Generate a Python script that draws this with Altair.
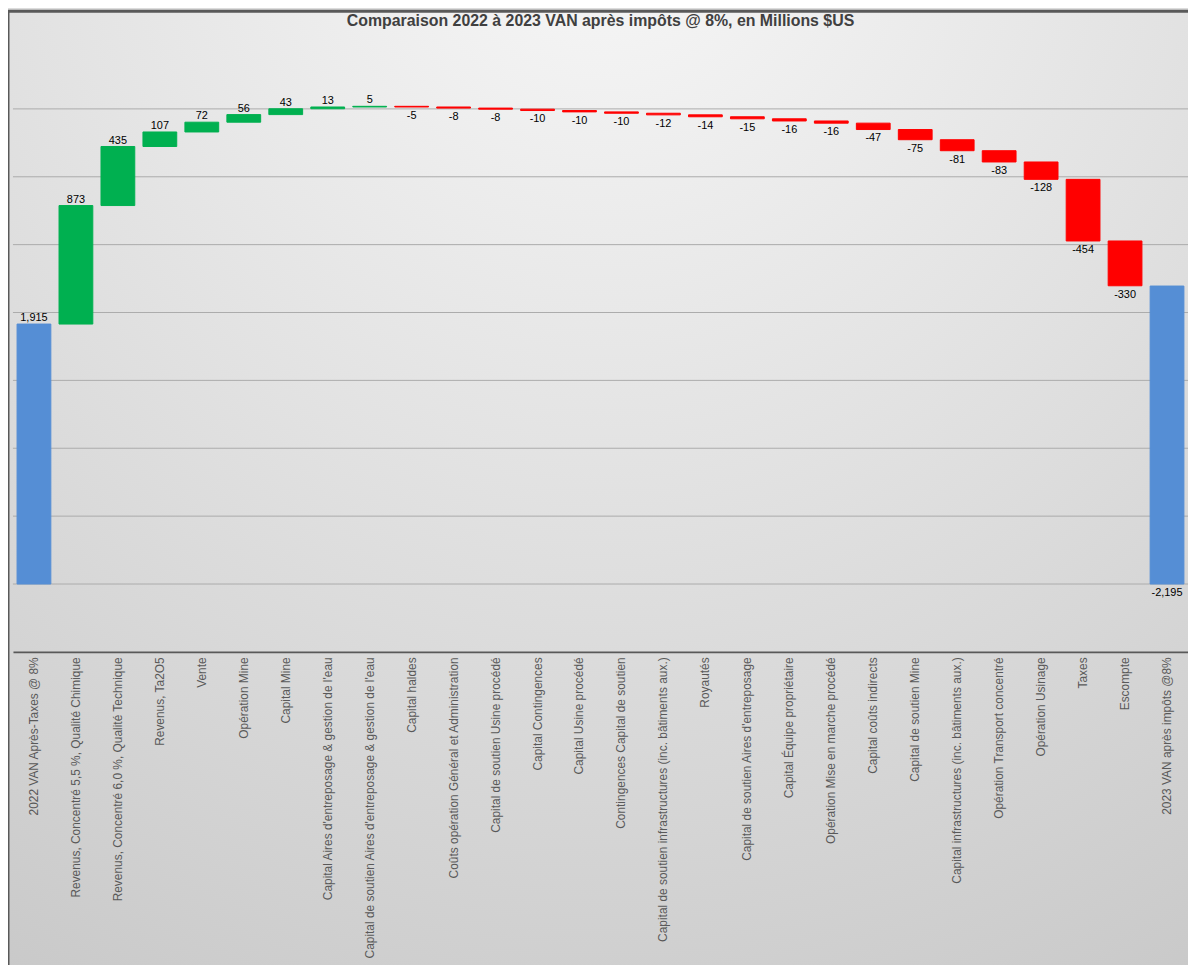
import altair as alt
import pandas as pd

categories = [
    "2022 VAN Après-Taxes @ 8%",
    "Revenus, Concentré 5,5 %, Qualité Chimique",
    "Revenus, Concentré 6,0 %, Qualité Technique",
    "Revenus, Ta2O5",
    "Vente",
    "Opération Mine",
    "Capital Mine",
    "Capital Aires d'entreposage & gestion de l'eau",
    "Capital de soutien Aires d'entreposage & gestion de l'eau",
    "Capital haldes",
    "Coûts opération Général et Administration",
    "Capital de soutien Usine procédé",
    "Capital Contingences",
    "Capital Usine procédé",
    "Contingences Capital de soutien",
    "Capital de soutien infrastructures (inc. bâtiments aux.)",
    "Royautés",
    "Capital de soutien Aires d'entreposage",
    "Capital Équipe propriétaire",
    "Opération Mise en marche procédé",
    "Capital coûts indirects",
    "Capital de soutien Mine",
    "Capital infrastructures (inc. bâtiments aux.)",
    "Opération Transport concentré",
    "Opération Usinage",
    "Taxes",
    "Escompte",
    "2023 VAN après impôts @8%",
]

values = [1915, 873, 435, 107, 72, 56, 43, 13, 5,
          -5, -8, -8, -10, -10, -10, -12, -14, -15, -16, -16,
          -47, -75, -81, -83, -128, -454, -330, 2195]

kinds = ["total"] + ["delta"] * 26 + ["total"]

value_labels = ["1,915", "873", "435", "107", "72", "56", "43", "13", "5",
                "-5", "-8", "-8", "-10", "-10", "-10", "-12", "-14", "-15", "-16", "-16",
                "-47", "-75", "-81", "-83", "-128", "-454", "-330", "-2,195"]

grid_values = [0, 500, 1000, 1500, 2000, 2500, 3000, 3500]

# waterfall computation
rows = []
running = 0
for cat, v, k, lab in zip(categories, values, kinds, value_labels):
    if k == "total":
        start, end = 0, v
        running = v
        key = "Total"
    else:
        start, end = running, running + v
        running = end
        key = "Hausse" if v > 0 else "Baisse"
    rows.append(dict(cat=cat, start=start, end=end, hi=max(start, end), lo=min(start, end),
                     label=lab, place="below" if lab.startswith("-") else "above", kind=key))
df = pd.DataFrame(rows)
grid_df = pd.DataFrame({"v": grid_values})

W, H = 1183, 615
PAD = {"left": 5, "top": 30, "right": 0, "bottom": 312}

yscale = alt.Scale(domain=[-500, 4000], nice=False, zero=False)
x_axis = alt.Axis(title=None, labelAngle=-90, labelFontSize=12, labelColor="#595959",
                  labelFont="Liberation Sans", ticks=False, domainColor="#595959",
                  domainWidth=2, labelPadding=5, labelLimit=0, labelOverlap=False, zindex=1)
x_enc = alt.X("cat:N", sort=categories,
              scale=alt.Scale(paddingInner=0.195, paddingOuter=0.0975), axis=x_axis)

color_scale = alt.Scale(domain=["Total", "Hausse", "Baisse"],
                        range=["#558ED5", "#00B050", "#FF0000"])

gradient = alt.RadialGradient(
    gradient="radial",
    stops=[alt.GradientStop(color="#f8f8f8", offset=0),
           alt.GradientStop(color="#e2e2e2", offset=0.45),
           alt.GradientStop(color="#c6c6c6", offset=1)],
    x1=0.5, y1=0, r1=0, x2=0.5, y2=0, r2=1.1,
)

bg = alt.Chart(alt.Data(values=[{"a": 1}])).mark_rect(
    fill=gradient, stroke="#595959", strokeWidth=3
).encode(
    x=alt.value(-PAD["left"]), x2=alt.value(W + 10),
    y=alt.value(-PAD["top"]), y2=alt.value(H + PAD["bottom"] + 10),
)

grid = alt.Chart(grid_df).mark_rule(color="#ababab", strokeWidth=1).encode(
    y=alt.Y("v:Q", scale=yscale, axis=None)
)

bars = alt.Chart(df).mark_bar(strokeWidth=1).encode(
    x=x_enc,
    y=alt.Y("start:Q", scale=yscale, axis=None),
    y2="end:Q",
    color=alt.Color("kind:N", scale=color_scale, legend=None),
    stroke=alt.Stroke("kind:N", scale=color_scale, legend=None),
)

text_above = alt.Chart(df).transform_filter(alt.datum.place == "above").mark_text(
    baseline="alphabetic", dy=-3, fontSize=11, color="#000000", font="Liberation Sans"
).encode(x=x_enc, y=alt.Y("hi:Q", scale=yscale, axis=None), text="label:N")

text_below = alt.Chart(df).transform_filter(alt.datum.place == "below").mark_text(
    baseline="top", dy=3, fontSize=11, color="#000000", font="Liberation Sans"
).encode(x=x_enc, y=alt.Y("lo:Q", scale=yscale, axis=None), text="label:N")

chart = alt.layer(bg, grid, bars, text_above, text_below).properties(
    width=W, height=H,
    title=alt.TitleParams("Comparaison 2022 à 2023 VAN après impôts @ 8%, en Millions $US",
                          fontSize=16, font="Liberation Sans", fontWeight="bold",
                          color="#404040", anchor="middle", offset=-19, zindex=1),
    padding=PAD,
    autosize=alt.AutoSizeParams(type="none"),
).configure(font="Liberation Sans", background="#dcdcdc").configure_view(stroke=None)

chart.save("out.html", embed_options={"renderer": "svg", "actions": False})
